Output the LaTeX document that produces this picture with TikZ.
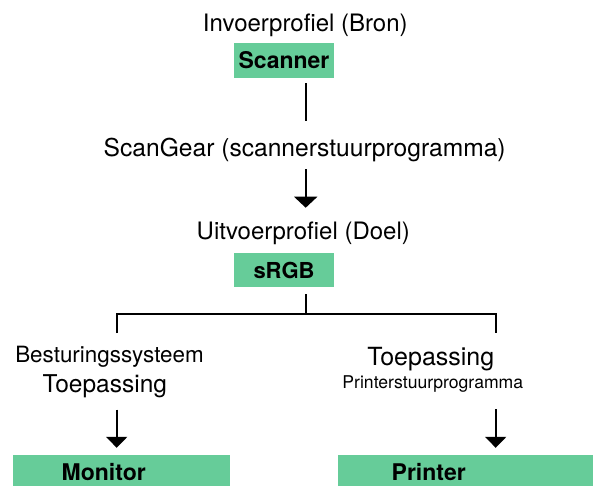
\documentclass[tikz,border=0pt]{standalone}
\usepackage{fontspec}
\setmainfont{TeX Gyre Heros}
\usetikzlibrary{arrows.meta}
\definecolor{boxgreen}{RGB}{102,204,153}
\begin{document}
\begin{tikzpicture}[x=1pt,y=-1pt,
  lbl/.style={inner sep=0pt, anchor=base, font=\fontsize{24}{28}\selectfont},
  greenbox/.style={fill=boxgreen, inner sep=0pt, font=\fontsize{23}{27}\selectfont\bfseries},
  conn/.style={line width=1.8pt},
  arr/.style={conn, -{Triangle[width=21pt,length=11pt]}}]
\useasboundingbox (0,0) rectangle (593,485);
% nodes
\node[lbl] (invoer) at (305.3,31.7) {Invoerprofiel (Bron)};
\node[greenbox, minimum width=100pt, minimum height=35pt] (scanner) at (284,60.5) {Scanner};
\node[lbl, font=\fontsize{24.6}{28}\selectfont] (scangear) at (304.7,156.7) {ScanGear (scannerstuurprogramma)};
\node[lbl] (uitvoer) at (303.3,239.3) {Uitvoerprofiel (Doel)};
\node[greenbox, minimum width=100pt, minimum height=34pt, font=\fontsize{22}{26}\selectfont\bfseries] (srgb) at (284,270) {sRGB};
\node[lbl, font=\fontsize{22.4}{26}\selectfont] (besturing) at (109.5,362.7) {Besturingssysteem};
\node[lbl, font=\fontsize{24.5}{28}\selectfont] (toepL) at (104.8,392) {Toepassing};
\node[lbl, font=\fontsize{25}{28}\selectfont] (toepR) at (430.8,365) {Toepassing};
\node[lbl, font=\fontsize{17.6}{21}\selectfont] (printdrv) at (432.8,388.3) {Printerstuurprogramma};
\node[greenbox, text width=217.3pt, minimum height=36pt, align=left] (monitor) at (121.35,472.5) {\hspace*{49pt}Monitor};
\node[greenbox, text width=262pt, minimum height=36pt, align=left] (printer) at (469,472.5) {\hspace*{53.7pt}Printer};
% helper coordinates
\coordinate (cx) at (305.7,0);
\coordinate (lx) at (116.7,0);
\coordinate (rx) at (495.7,0);
\coordinate (jn) at (305.7,314);
\coordinate (jl) at (116.7,333);
\coordinate (jr) at (495.7,333);
% connectors
\draw[conn] ([yshift=-5pt]scanner.south -| cx) -- ([yshift=16.8pt]scangear.north -| cx);
\draw[conn, -{Triangle[width=23pt,length=11pt]}] ([yshift=-7pt]scangear.south -| cx) -- ([yshift=13.8pt]uitvoer.north -| cx);
\draw[conn] ([yshift=-7pt]srgb.south -| cx) -- (jn);
\draw[conn] (jl) |- (jn) -| (jr);
\draw[arr] ([yshift=-12pt]toepL.south -| lx) -- ([yshift=6.5pt]monitor.north -| lx);
\draw[arr] ([yshift=-17pt]printdrv.south -| rx) -- ([yshift=6.5pt]printer.north -| rx);
\end{tikzpicture}
\end{document}
